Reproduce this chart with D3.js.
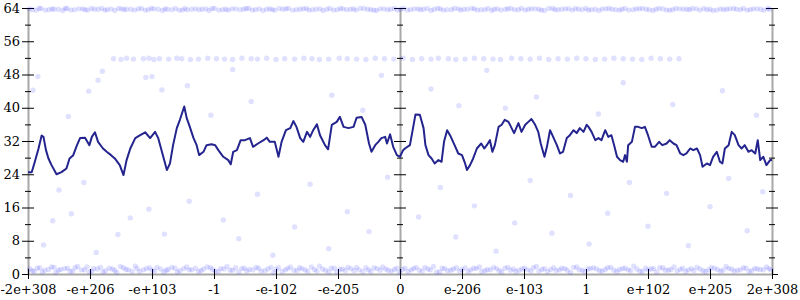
<!DOCTYPE html>
<html lang="en">
	<head>
		<meta charset="utf-8">
		<title>float ordering chart</title>
		<script type="text/javascript" src="https://d3js.org/d3.v7.min.js"></script>
		<style type="text/css">
			body { margin: 0; background: #fff; }
			.axis .domain { stroke: #a8a8a8; stroke-width: 2; }
			.axis .tick line { stroke: #000; }
		</style>
	</head>
	<body>
		<script type="text/javascript">

			//Width and height
			var w = 800;
			var h = 300;

			// x positions are in tick units, -6 .. 6
			var xTickValues = [-6, -5, -4, -3, -2, -1, 0, 1, 2, 3, 4, 5, 6];
			var xTickLabels = ["-2e+308", "-e+206", "-e+103", "-1", "-e-102", "-e-205", "0",
			                   "e-206", "e-103", "1", "e+102", "e+205", "2e+308"];
			var yMajor = [0, 8, 16, 24, 32, 40, 48, 56, 64];
			var yMinor = [4, 12, 20, 28, 36, 44, 52, 60];

			// the dark line
			var lineX = [-6.00,-5.94,-5.89,-5.83,-5.78,-5.75,-5.71,-5.67,-5.62,-5.54,-5.46,-5.38,-5.33,-5.27,-5.21,-5.16,-5.08,-5.01,-4.97,-4.92,
				-4.87,-4.79,-4.73,-4.66,-4.60,-4.52,-4.46,-4.41,-4.35,-4.27,-4.19,-4.11,-4.03,-3.95,-3.90,-3.84,-3.76,-3.71,-3.66,-3.60,
				-3.55,-3.48,-3.44,-3.39,-3.33,-3.28,-3.24,-3.17,-3.12,-3.04,-2.98,-2.93,-2.85,-2.77,-2.73,-2.69,-2.63,-2.57,-2.50,-2.42,
				-2.37,-2.29,-2.20,-2.15,-2.10,-2.02,-1.96,-1.91,-1.84,-1.77,-1.72,-1.67,-1.61,-1.56,-1.50,-1.45,-1.40,-1.34,-1.29,-1.21,
				-1.16,-1.10,-1.02,-0.97,-0.91,-0.83,-0.75,-0.70,-0.62,-0.56,-0.50,-0.46,-0.40,-0.35,-0.30,-0.24,-0.21,-0.16,-0.11,-0.05,
				0.00,0.05,0.08,0.16,0.21,0.25,0.32,0.38,0.41,0.46,0.51,0.56,0.62,0.67,0.71,0.76,0.82,0.88,0.94,1.00,
				1.05,1.08,1.13,1.18,1.24,1.31,1.36,1.40,1.45,1.49,1.53,1.59,1.64,1.69,1.75,1.80,1.84,1.91,1.96,2.02,
				2.07,2.12,2.18,2.23,2.27,2.33,2.37,2.42,2.47,2.53,2.58,2.63,2.69,2.74,2.80,2.85,2.90,2.96,3.01,3.04,
				3.09,3.15,3.20,3.25,3.31,3.36,3.41,3.46,3.50,3.55,3.60,3.63,3.66,3.68,3.74,3.79,3.84,3.90,3.95,4.00,
				4.06,4.11,4.18,4.23,4.30,4.35,4.41,4.46,4.52,4.57,4.62,4.68,4.73,4.79,4.84,4.88,4.95,5.00,5.05,5.11,
				5.16,5.20,5.24,5.30,5.35,5.40,5.46,5.51,5.56,5.62,5.67,5.73,5.77,5.81,5.86,5.91,5.97,6.00];
			var lineY = [24.5,24.5,27.0,30.2,33.3,33.0,29.8,27.8,26.2,24.0,24.5,25.4,27.8,28.6,31.0,32.7,32.8,31.0,33.0,34.1,
				31.8,30.2,29.4,28.6,27.8,26.2,23.8,27.4,30.2,32.7,33.4,34.1,32.7,34.2,32.7,29.4,25.0,26.6,31.0,35.1,
				37.1,40.3,37.5,35.4,32.7,31.0,28.6,29.4,31.0,31.2,31.0,29.8,28.2,27.4,26.4,29.4,29.8,32.2,32.2,32.7,
				30.6,31.4,32.2,32.8,31.8,31.8,28.2,31.8,34.6,35.1,36.8,35.4,32.7,31.8,34.2,33.0,34.6,36.0,33.4,31.0,
				30.0,35.9,36.6,37.8,35.4,35.1,35.4,37.6,37.8,35.9,31.4,29.4,31.0,31.8,32.7,33.0,31.4,33.6,30.6,28.6,
				28.2,29.8,30.2,31.0,35.1,38.4,38.3,35.1,31.0,28.6,27.8,26.6,27.4,27.0,31.8,34.6,33.0,31.0,29.0,28.6,
				26.6,25.0,26.2,27.8,30.2,31.4,30.2,31.0,32.2,29.4,31.0,35.4,35.9,37.1,36.6,35.1,33.9,36.3,34.2,35.9,
				36.6,37.3,35.9,34.2,31.4,28.2,30.6,34.6,33.0,31.0,29.0,29.4,32.7,33.4,34.6,33.9,35.1,34.2,35.9,35.4,
				34.2,32.2,32.7,32.2,34.6,33.0,33.4,30.6,28.2,27.4,27.0,28.6,27.0,31.0,31.8,35.4,35.4,35.1,35.4,33.4,
				30.6,30.6,31.8,31.0,31.4,32.2,31.4,31.0,29.0,28.6,29.0,30.2,29.8,30.2,28.6,25.8,26.6,26.2,28.2,29.4,
				27.0,26.6,30.2,31.0,34.2,33.4,31.0,30.2,31.0,29.4,29.8,29.0,32.2,27.4,28.2,26.2,27.4,27.4];

			// faint samples: band along the top
			var topX = [-5.98,-5.87,-5.79,-5.66,-5.58,-5.44,-5.37,-5.25,-5.12,-5.04,-4.93,-4.81,-4.72,-4.6,-4.49,-4.41,-4.28,-4.17,-4.06,-3.97,
				-3.83,-3.75,-3.62,-3.51,-3.43,-3.3,-3.19,-3.08,-2.99,-2.86,-2.77,-2.65,-2.52,-2.44,-2.33,-2.21,-2.1,-2.02,-1.89,-1.8,
				-1.67,-1.56,-1.47,-1.35,-1.24,-1.13,-1.01,-0.92,-0.8,-0.71,-0.58,-0.47,-0.38,-0.26,-0.15,-0.04,0.06,0.17,0.29,0.38,
				0.5,0.61,0.7,0.83,0.94,1.03,1.16,1.25,1.37,1.48,1.57,1.7,1.79,1.91,2.02,2.12,2.24,2.33,2.46,2.55,
				2.67,2.78,2.88,3.0,3.09,3.21,3.32,3.42,3.54,3.63,3.76,3.86,3.97,4.08,4.18,4.3,4.4,4.51,4.63,4.72,
				4.84,4.95,5.05,5.17,5.27,5.38,5.49,5.6,5.7,5.82,5.93];
			var topY = [63.8,63.5,63.9,63.6,63.7,63.4,63.9,63.6,63.8,63.5,63.7,63.9,63.6,63.4,63.8,63.7,63.5,63.9,63.6,63.8,
				63.4,63.7,63.9,63.5,63.6,63.8,63.7,63.4,63.9,63.6,63.5,63.8,63.7,63.9,63.6,63.4,63.8,63.5,63.7,63.9,
				63.6,63.8,63.5,63.7,63.4,63.9,63.6,63.8,63.7,63.5,63.9,63.6,63.4,63.8,63.7,63.5,63.9,63.6,63.8,63.7,
				63.4,63.9,63.5,63.6,63.8,63.7,63.9,63.5,63.6,63.4,63.8,63.7,63.9,63.6,63.5,63.8,63.7,63.4,63.9,63.6,
				63.8,63.5,63.7,63.9,63.6,63.4,63.8,63.7,63.5,63.9,63.6,63.8,63.7,63.4,63.9,63.5,63.6,63.8,63.7,63.9,
				63.5,63.6,63.4,63.8,63.7,63.9,63.6,63.5,63.8,63.7,63.9];
			var topX2 = [-5.93,-5.82,-5.72,-5.61,-5.51,-5.4,-5.31,-5.18,-5.08,-4.98,-4.87,-4.76,-4.66,-4.54,-4.45,-4.34,-4.22,-4.11,-4.01,-3.9,
				-3.79,-3.68,-3.56,-3.47,-3.36,-3.24,-3.13,-3.03,-2.92,-2.81,-2.71,-2.58,-2.48,-2.38,-2.27,-2.15,-2.06,-1.95,-1.84,-1.73,
				-1.61,-1.51,-1.41,-1.29,-1.18,-1.07,-0.96,-0.86,-0.75,-0.64,-0.52,-0.42,-0.32,-0.2,-0.09,0.01,0.12,0.23,0.33,0.44,
				0.55,0.65,0.76,0.88,0.98,1.09,1.2,1.31,1.42,1.52,1.63,1.74,1.85,1.96,2.07,2.18,2.28,2.4,2.5,2.61,
				2.72,2.83,2.94,3.04,3.15,3.26,3.37,3.48,3.58,3.69,3.81,3.91,4.02,4.13,4.24,4.35,4.45,4.57,4.67,4.78,
				4.9,5.0,5.11,5.22,5.32,5.43,5.54,5.65,5.76,5.87,5.96];
			var topY2 = [63.6,63.9,63.5,63.8,63.7,63.9,63.5,63.8,63.6,63.9,63.7,63.5,63.8,63.9,63.6,63.7,63.8,63.5,63.9,63.7,
				63.8,63.6,63.5,63.9,63.7,63.6,63.8,63.9,63.5,63.7,63.8,63.6,63.9,63.5,63.8,63.7,63.6,63.9,63.8,63.5,
				63.7,63.9,63.6,63.8,63.7,63.5,63.9,63.6,63.8,63.9,63.7,63.5,63.8,63.6,63.9,63.7,63.5,63.8,63.6,63.9,
				63.7,63.8,63.6,63.9,63.5,63.7,63.8,63.6,63.9,63.7,63.5,63.8,63.6,63.9,63.7,63.8,63.5,63.9,63.6,63.7,
				63.8,63.9,63.6,63.5,63.7,63.8,63.9,63.6,63.7,63.5,63.8,63.9,63.6,63.7,63.8,63.5,63.9,63.7,63.6,63.8,
				63.9,63.7,63.5,63.6,63.8,63.7,63.9,63.6,63.8,63.5,63.7];

			// faint samples: band near 52
			var midX = [-4.62,-4.5,-4.41,-4.3,-4.14,-4.05,-3.97,-3.88,-3.73,-3.6,-3.52,-3.38,-3.25,-3.1,-2.96,-2.83,-2.7,-2.55,-2.4,-2.3,
				-2.15,-2.0,-1.86,-1.7,-1.55,-1.42,-1.3,-1.15,-0.98,-0.85,-0.7,-0.55,-0.4,-0.25,-0.1,0.05,0.2,0.35,0.5,0.62,
				0.78,0.9,1.05,1.2,1.35,1.5,1.62,1.8,1.95,2.1,2.25,2.4,2.55,2.7,2.85,3.0,3.15,3.3,3.45,3.6,
				3.75,3.9,4.05,4.2,4.35,4.5];
			var midY = [51.8,51.6,51.9,51.7,51.8,51.9,51.6,51.8,51.7,51.9,51.8,51.6,51.7,51.9,51.8,51.7,51.6,51.9,51.8,51.7,
				51.9,51.6,51.8,51.7,51.9,51.8,51.6,51.7,51.9,51.8,51.7,51.6,51.9,51.8,51.7,51.9,51.6,51.8,51.7,51.9,
				51.8,51.6,51.7,51.9,51.8,51.7,51.6,51.9,51.8,51.7,51.9,51.6,51.8,51.7,51.9,51.8,51.6,51.7,51.9,51.8,
				51.7,51.6,51.9,51.8,51.7,51.8];

			// faint samples: band along the bottom
			var lowX = [-5.97,-5.9,-5.81,-5.73,-5.62,-5.55,-5.47,-5.36,-5.28,-5.2,-5.09,-5.01,-4.94,-4.83,-4.75,-4.64,-4.57,-4.46,-4.38,-4.27,
				-4.2,-4.09,-4.0,-3.92,-3.81,-3.74,-3.63,-3.55,-3.44,-3.36,-3.25,-3.17,-3.06,-2.98,-2.89,-2.79,-2.7,-2.6,-2.51,-2.43,
				-2.32,-2.24,-2.13,-2.04,-1.96,-1.85,-1.77,-1.66,-1.58,-1.49,-1.38,-1.3,-1.2,-1.11,-1.02,-0.93,-0.84,-0.74,-0.66,-0.55,
				-0.47,-0.37,-0.28,-0.19,-0.09,-0.01,0.08,0.18,0.26,0.36,0.45,0.54,0.64,0.72,0.82,0.91,1.0,1.1,1.19,1.28,
				1.37,1.46,1.56,1.64,1.74,1.83,1.92,2.01,2.11,2.2,2.29,2.38,2.48,2.57,2.66,2.75,2.85,2.94,3.03,3.12,
				3.22,3.31,3.4,3.5,3.59,3.68,3.77,3.87,3.96,4.05,4.14,4.24,4.33,4.42,4.52,4.61,4.7,4.79,4.89,4.98,
				5.07,5.17,5.26,5.35,5.44,5.54,5.63,5.72,5.81,5.91,5.98];
			var lowY = [1.2,0.6,1.5,0.9,1.7,0.4,1.1,1.4,0.7,1.8,1.0,0.5,1.3,1.6,0.8,1.2,0.4,1.5,1.0,1.9,
				0.6,1.3,0.9,1.6,0.5,1.1,1.4,0.8,1.7,1.0,0.6,1.2,1.5,0.7,1.3,1.8,0.9,0.5,1.4,1.1,
				1.6,0.7,1.2,0.4,1.5,1.0,1.7,0.8,1.3,0.6,1.1,1.9,0.9,1.4,0.5,1.2,1.6,0.8,1.0,1.5,
				0.6,1.3,1.7,0.9,1.1,0.4,1.4,1.0,1.6,0.7,1.2,1.8,0.5,1.3,0.9,1.5,1.1,0.6,1.4,1.7,
				0.8,1.0,1.3,0.5,1.6,1.2,0.9,1.4,0.7,1.8,1.1,0.6,1.5,1.0,1.3,0.4,1.7,0.9,1.2,1.5,
				0.8,1.1,1.6,0.6,1.3,1.0,1.9,0.7,1.4,1.2,0.5,1.5,0.9,1.7,1.1,0.6,1.3,1.6,0.8,1.0,
				1.4,0.7,1.8,1.2,0.9,1.5,0.6,1.3,1.1,1.7,1.0];
			var lowX2 = [-5.93,-5.85,-5.77,-5.67,-5.58,-5.51,-5.41,-5.32,-5.24,-5.14,-5.05,-4.97,-4.88,-4.79,-4.69,-4.6,-4.51,-4.42,-4.32,-4.24,
				-4.14,-4.04,-3.96,-3.86,-3.77,-3.68,-3.59,-3.49,-3.4,-3.3,-3.21,-3.11,-3.02,-2.93,-2.84,-2.74,-2.65,-2.55,-2.47,-2.37,
				-2.28,-2.18,-2.08,-2.0,-1.9,-1.81,-1.71,-1.62,-1.53,-1.43,-1.34,-1.25,-1.15,-1.06,-0.97,-0.88,-0.79,-0.7,-0.6,-0.51,
				-0.42,-0.32,-0.23,-0.14,-0.05,0.04,0.13,0.22,0.31,0.4,0.49,0.59,0.68,0.77,0.86,0.96,1.05,1.14,1.23,1.32,
				1.41,1.51,1.6,1.69,1.78,1.87,1.97,2.06,2.15,2.24,2.33,2.43,2.52,2.61,2.7,2.8,2.89,2.98,3.07,3.17,
				3.26,3.35,3.45,3.54,3.63,3.72,3.82,3.91,4.0,4.09,4.19,4.28,4.37,4.47,4.56,4.65,4.74,4.84,4.93,5.02,
				5.12,5.21,5.3,5.39,5.49,5.58,5.67,5.76,5.86,5.95];
			var lowY2 = [0.8,1.4,0.5,1.1,1.6,0.9,1.3,0.6,1.5,1.0,1.7,0.7,1.2,0.5,1.4,0.9,1.8,1.1,0.6,1.3,
				1.0,1.5,0.7,1.2,0.9,1.6,0.5,1.3,1.0,1.4,0.8,1.7,1.1,0.6,1.2,0.9,1.5,1.3,0.7,1.0,
				1.4,0.8,1.6,1.1,0.6,1.3,0.9,1.5,1.0,1.7,0.7,1.2,0.5,1.4,1.1,0.8,1.3,1.6,0.6,1.0,
				1.5,0.9,1.2,0.7,1.4,1.1,0.6,1.3,0.9,1.6,1.0,0.5,1.4,0.8,1.2,0.7,1.5,1.0,1.3,0.6,
				1.1,1.6,0.8,1.4,0.9,0.6,1.2,1.0,1.5,0.7,1.3,1.1,0.8,1.4,0.9,1.6,1.0,0.6,1.3,1.2,
				0.7,1.5,0.9,1.1,1.4,0.8,1.2,0.6,1.0,1.3,1.5,0.9,1.1,0.7,1.4,1.0,0.8,1.2,0.6,1.5,
				1.1,0.9,1.3,0.7,1.0,1.4,0.8,1.2,1.0,1.3];

			// faint samples scattered in between
			var scatterX = [-5.84,-5.92,-5.02,-4.87,-4.8,-4.1,-4.0,-3.84,-3.43,-5.6,-5.75,-5.3,-4.55,-4.35,-4.05,-3.4,-3.8,-4.9,-5.5,-5.1,
				-2.85,-2.6,-2.3,-2.05,-1.7,-1.45,-1.15,-0.85,-0.5,-0.2,-0.6,-1.1,-2.4,-3.05,-5.35,0.3,0.65,0.9,1.2,1.55,
				1.85,2.1,2.45,2.75,3.05,3.35,3.7,4.0,4.3,4.65,5.0,5.3,5.6,5.85,0.5,1.4,2.2,3.6,4.4,5.2,
				5.75,0.95,-0.3,3.2,1.7,-2.7];
			var scatterY = [47.5,44.2,44.0,46.6,48.8,47.3,47.5,44.3,45.3,12.8,7.0,14.5,9.5,13.5,15.6,17.5,9.6,5.2,20.2,22.0,
				13.0,8.5,19.2,4.5,11.3,21.6,6.1,15.0,10.2,23.3,39.4,43.0,41.5,38.2,37.9,13.7,20.8,8.9,16.4,5.5,
				12.3,22.5,9.8,18.9,7.2,14.6,22.0,11.5,19.4,6.8,16.2,23.0,10.4,19.8,44.5,49.0,42.6,46.0,40.8,44.1,
				38.2,40.5,47.8,38.5,39.9,49.2];

			var x = d3.scaleLinear().domain([-6, 6]).range([28, 772]);
			var y = d3.scaleLinear().domain([0, 64]).range([274, 8]);

			//Create SVG element
			var svg = d3.select("body")
						.append("svg")
						.attr("width", w)
						.attr("height", h);

			svg.append("rect").attr("width", w).attr("height", h).attr("fill", "#fff");

			function serif(g) {
				g.attr("font-family", "DejaVu Serif").attr("font-size", 13);
				g.selectAll("text").attr("fill", "#000").style("font-family", "'DejaVu Serif', serif");
			}

			// vertical axes: left (labelled), middle (at 0) and right
			function vAxis(pos, labelled) {
				var major = svg.append("g")
					.attr("class", "axis")
					.attr("transform", "translate(" + x(pos) + ",0)")
					.call(d3.axisLeft(y)
						.tickValues(yMajor)
						.tickSize(6)
						.tickSizeOuter(0)
						.tickPadding(2)
						.tickFormat(labelled ? d3.format("d") : ""));
				major.selectAll(".tick line").attr("x1", 6);
				serif(major);

				var minor = svg.append("g")
					.attr("class", "axis")
					.attr("transform", "translate(" + x(pos) + ",0)")
					.call(d3.axisLeft(y)
						.tickValues(yMinor)
						.tickSize(3)
						.tickSizeOuter(0)
						.tickFormat(""));
				minor.select(".domain").remove();
				minor.selectAll(".tick line").attr("x1", 3);
			}

			vAxis(-6, true);
			vAxis(0, false);
			vAxis(6, false);

			var xAxis = svg.append("g")
				.attr("class", "axis")
				.attr("transform", "translate(0," + y(0) + ")")
				.call(d3.axisBottom(x)
					.tickValues(xTickValues)
					.tickSize(5)
					.tickSizeOuter(0)
					.tickPadding(6)
					.tickFormat(function(d, i) { return xTickLabels[i]; }));
			xAxis.selectAll(".tick line").attr("y1", -5);
			serif(xAxis);

			// faint sample dots
			var dots = [].concat(d3.zip(topX, topY), d3.zip(topX2, topY2), d3.zip(midX, midY),
				d3.zip(lowX, lowY), d3.zip(lowX2, lowY2), d3.zip(scatterX, scatterY));

			svg.append("g")
			   .selectAll("circle")
			   .data(dots)
			   .enter()
			   .append("circle")
			   .attr("cx", function(d) { return x(d[0]); })
			   .attr("cy", function(d) { return y(d[1]); })
			   .attr("r", 2.7)
			   .attr("fill", "#0000ff")
			   .attr("fill-opacity", 0.12);

			// the dark line
			var line = d3.line()
				.x(function(d) { return x(d[0]); })
				.y(function(d) { return y(d[1]); });

			svg.append("path")
			   .datum(d3.zip(lineX, lineY))
			   .attr("d", line)
			   .attr("fill", "none")
			   .attr("stroke", "#24248e")
			   .attr("stroke-width", 2)
			   .attr("stroke-linejoin", "round");

		</script>
	</body>
</html>
